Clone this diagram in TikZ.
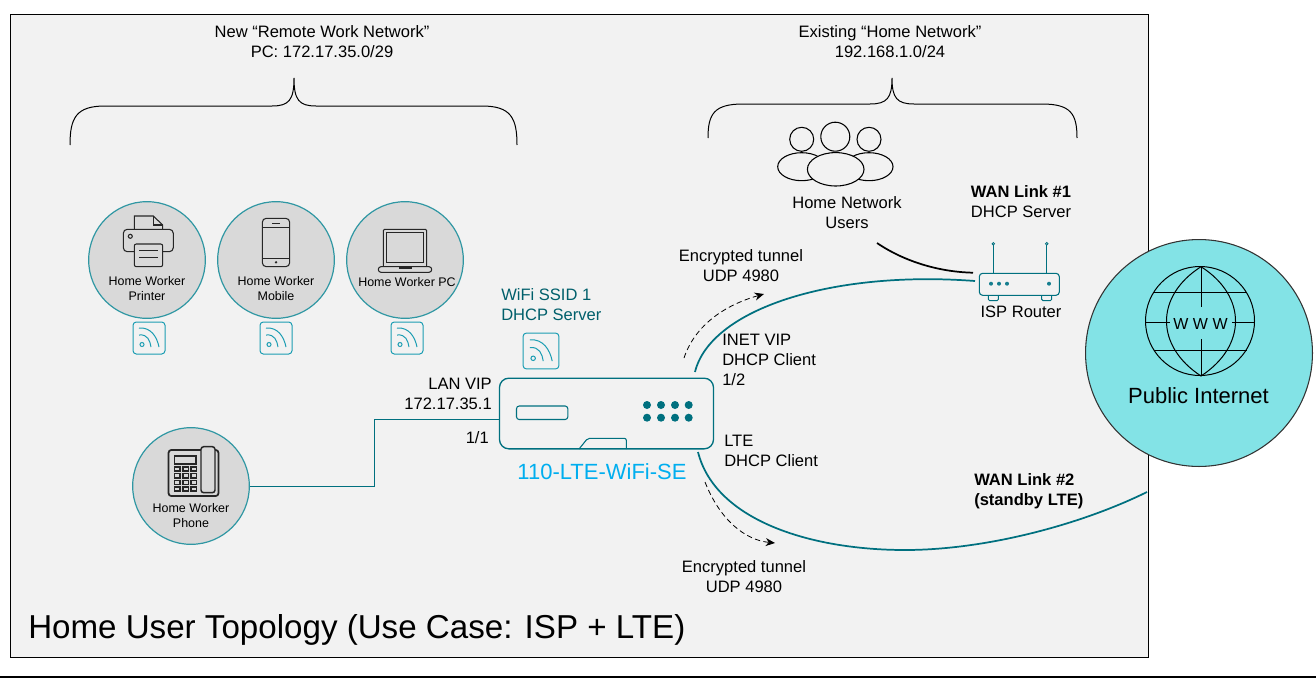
\documentclass[tikz,border=0pt]{standalone}
\usepackage{fontspec}
\setmainfont{Liberation Sans}
\usetikzlibrary{arrows.meta}
\definecolor{panelGray}{HTML}{F2F2F2}
\definecolor{circleGray}{HTML}{D9D9D9}
\definecolor{tealDark}{HTML}{00707F}
\definecolor{tealRing}{HTML}{2F97A3}
\definecolor{tealIcon}{HTML}{1C9DB3}
\definecolor{tealText}{HTML}{005F6B}
\definecolor{netCyan}{HTML}{83E3E6}
\definecolor{skyText}{HTML}{00AEEF}
\tikzset{
  txt/.style={font=\fontsize{12.4}{15}\selectfont,align=center,inner sep=0pt},
  txtL/.style={txt,align=left,anchor=west},
  txtR/.style={txt,align=right,anchor=east},
  small/.style={font=\fontsize{9.35}{11.25}\selectfont,align=center,inner sep=0pt},
  worker/.style={circle,draw=tealRing,fill=circleGray,line width=0.9pt,minimum size=87.5pt,inner sep=0pt},
  glyph/.style={line width=0.8pt,black!85},
  tealLine/.style={draw=tealDark,line width=1.3pt},
  tunnel/.style={dash pattern=on 4pt off 2.5pt,line width=0.6pt,-{Stealth[length=7pt,width=6pt]}},
  wifiIcon/.pic={
    \draw[tealIcon,line width=0.75pt,rounded corners=2.5pt] (-16,-16) rectangle (16,16);
    \draw[tealIcon,line width=0.75pt] (-7,6.5) circle[radius=2];
    \draw[tealIcon,line width=0.75pt] (-10,-3) .. controls (-1,-4) and (1,3) .. (2,9);
    \draw[tealIcon,line width=0.75pt] (-10,-10) .. controls (2,-11) and (8,-1) .. (10,9);
  }
}
\begin{document}
\begin{tikzpicture}[x=0.75pt,y=-0.75pt]
  \useasboundingbox (0,0) rectangle (1316,678);
  \draw[black,line width=0.75pt,fill=panelGray] (10,14) rectangle (1148,657);
  \draw[black,line width=0.9pt] (0,677) -- (1316,677);

  \node[txt] (remoteHead) at (322,42) {New “Remote Work Network”\\PC: 172.17.35.0/29};
  \node[txt] (homeHead) at (890,42) {Existing “Home Network”\\192.168.1.0/24};
  \draw[line width=0.75pt] (70,145) .. controls (70,118) and (76,106) .. (105,106) -- (272,106)
    .. controls (289,106) and (294,100) .. (294,78) .. controls (294,100) and (299,106) .. (316,106)
    -- (482,106) .. controls (511,106) and (517,118) .. (517,145);
  \draw[line width=0.75pt] (708,138) .. controls (708,114) and (714,104) .. (743,104) -- (870,104)
    .. controls (887,104) and (892,98) .. (892,78) .. controls (892,98) and (897,104) .. (914,104)
    -- (1042,104) .. controls (1071,104) and (1077,114) .. (1077,138);

  \node[worker] (printerNode) at (147,260) {};
  \node[worker] (mobileNode) at (276,260) {};
  \node[worker] (pcNode) at (405,260) {};
  \node[worker] (phoneNode) at (191,486) {};
  \node[small] (printerText) at (147,289) {Home Worker\\Printer};
  \node[small] (mobileText) at (276,289) {Home Worker\\Mobile};
  \node[small] (pcText) at (407,282) {Home Worker PC};
  \node[small] (phoneText) at (191,516) {Home Worker\\Phone};

  \draw[glyph] (134.3,229) -- (134.3,216) -- (153.3,216) -- (162.7,225) -- (162.7,229);
  \draw[glyph] (153.3,216) -- (153.3,225) -- (162.7,225);
  \draw[glyph,rounded corners=3pt] (123.3,229.3) rectangle (173.3,251.7);
  \draw[glyph,fill=circleGray,rounded corners=1.5pt] (134.3,244) rectangle (162.7,266.7);
  \draw[glyph] (139,250.7) -- (158.3,250.7) (139,257.3) -- (158.3,257.3);
  \draw[glyph] (130.3,236.3) circle[radius=2];

  \draw[glyph,rounded corners=3pt] (262.3,218.3) rectangle (289.7,266.7);
  \draw[glyph] (262.3,227.3) -- (289.7,227.3) (262.3,258.3) -- (289.7,258.3) (272.3,223.3) -- (280,223.3);
  \fill[black!85] (276,262.3) circle[radius=1.3];

  \draw[glyph,rounded corners=1pt] (383.3,266.7) -- (383.3,229.3) -- (426.7,229.3) -- (426.7,266.7);
  \draw[glyph] (386.7,232.3) rectangle (423.3,262.3);
  \draw[glyph,rounded corners=2pt] (378.3,266.7) rectangle (431.7,272.3);
  \draw[black!85,line width=1.4pt] (399.3,267.6) -- (411.7,267.6);

  \draw[line width=1.3pt,black!85,rounded corners=2pt] (168.6,450) rectangle (218.4,496);
  \draw[line width=1.1pt,black!85,fill=circleGray,rounded corners=2pt] (201,446.7) rectangle (215,492.7);
  \draw[line width=1.1pt,black!85] (174.3,456) rectangle (195.8,464);
  \foreach \kx in {174.5,183,191}
    \foreach \ky in {467,473.7,480.4,487}
      \draw[line width=1.1pt,black!85] (\kx,\ky) rectangle ++(5.5,4.2);

  \pic at (149,338) {wifiIcon};
  \pic at (276,338) {wifiIcon};
  \pic at (407,338) {wifiIcon};
  \pic[scale=1.12] at (541,351) {wifiIcon};

  \node[txtL,text=tealText] (ssidText) at (501,305) {WiFi SSID 1\\DHCP Server};
  \node[txtR] (lanText) at (492,393.5) {LAN VIP\\172.17.35.1};
  \node[txtR] (portText) at (489,438) {1/1};

  \node[draw=tealDark,line width=1pt,fill=panelGray,rounded corners=7pt,minimum width=160.5pt,minimum height=53pt,inner sep=0pt] (seNode) at (606.5,413.5) {};
  \draw[draw=tealDark,line width=0.8pt,rounded corners=2pt] (516.5,406) rectangle (567.8,419.5);
  \foreach \dx in {647,661,675,688.7}
    \foreach \dy in {405,417.7}
      \fill[tealDark] (\dx,\dy) circle[radius=4];
  \draw[draw=tealDark,line width=0.8pt,rounded corners=1.5pt] (579,449) -- (587.7,438.3) -- (626.3,438.3) -- (626.3,449);
  \node[inner sep=0pt,text=skyText,font=\fontsize{16.5}{18}\selectfont] (seText) at (602,472) {110-LTE-WiFi-SE};

  \coordinate (lanBend) at (374,419);
  \draw[draw=tealDark,line width=0.6pt] (phoneNode.east) -| (lanBend) -- (lanBend -| seNode.west);

  \draw[line width=0.8pt] (801.7,139.3) circle[radius=12];
  \draw[line width=0.8pt] (869,139.3) circle[radius=12];
  \draw[line width=0.8pt] (835.3,136.7) circle[radius=14.5];
  \draw[line width=0.8pt] (801.7,166.7) ellipse[x radius=24,y radius=14];
  \draw[line width=0.8pt] (869,166.7) ellipse[x radius=24,y radius=14];
  \draw[line width=0.8pt,fill=panelGray] (835.7,169.3) ellipse[x radius=28.3,y radius=16.7];
  \node[txt] (usersText) at (847,213) {Home Network\\Users};

  \node[txt] (wanOneText) at (1021,202) {\textbf{WAN Link \#1}\\DHCP Server};
  \node[draw=tealDark,line width=0.8pt,fill=panelGray,rounded corners=2.5pt,minimum width=60pt,minimum height=16.5pt,inner sep=0pt] (ispNode) at (1019.3,284.3) {};
  \draw[draw=tealDark,line width=0.7pt,rounded corners=1pt] (988.3,295.3) -- (988.3,300.7) -- (998.3,300.7) -- (998.3,295.3);
  \draw[draw=tealDark,line width=0.7pt,rounded corners=1pt] (1041.7,295.3) -- (1041.7,300.7) -- (1051.7,300.7) -- (1051.7,295.3);
  \draw[draw=tealDark,line width=0.7pt] (993.3,273.3) -- (993.3,245) (1046.7,273.3) -- (1046.7,245);
  \draw[draw=tealDark,line width=0.6pt] (993.3,243.8) circle[radius=1.3] (1046.7,243.8) circle[radius=1.3];
  \foreach \rx in {991,999,1007,1049}
    \fill[tealIcon!80!black] (\rx,283.7) circle[radius=2];
  \node[txt] (ispText) at (1021,312) {ISP Router};

  \node[draw=black!80,line width=0.8pt,circle,fill=netCyan,minimum size=170.2pt,inner sep=0pt] (netNode) at (1199,353) {};
  \draw[line width=0.75pt] (1200,321) circle[radius=54.5];
  \draw[line width=0.75pt] (1201,266.7) .. controls (1155,296) and (1155,346) .. (1201,376)
    .. controls (1247,346) and (1247,296) .. (1201,266.7);
  \draw[line width=0.75pt] (1201.5,266.7) -- (1201.5,306.7) (1201.5,339.3) -- (1201.5,376);
  \draw[line width=0.75pt] (1153.5,292.3) -- (1246.5,292.3) (1153.5,350) -- (1246.5,350);
  \draw[line width=0.75pt] (1146,322.5) -- (1170,322.5) (1232,322.5) -- (1254,322.5);
  \node[inner sep=0pt,font=\fontsize{12}{14}\selectfont] (wwwText) at (1200.5,323.5) {W W W};
  \node[inner sep=0pt,font=\fontsize{16.5}{20}\selectfont] (netText) at (1198.5,396) {Public Internet};

  \coordinate (seTop) at (695,372);
  \coordinate (seBottom) at (698,452);
  \coordinate (wanTwoEnd) at (1147,492);
  \coordinate (ispWest) at (975,281);
  \coordinate (usersEnd) at (877,243);
  \coordinate (ispBlack) at (973,272.7);
  \draw[tealLine] (seTop) .. controls (710,310) and (830,270) .. (ispWest);
  \draw[black,line width=1.3pt] (usersEnd) .. controls (905,262) and (940,272) .. (ispBlack);
  \draw[tealLine] (seBottom) .. controls (715,520) and (810,550) .. (905,550)
    .. controls (985,550) and (1080,525) .. (wanTwoEnd);

  \coordinate (tunnelUpStart) at (684,358);
  \coordinate (tunnelUpEnd) at (764,294);
  \coordinate (tunnelDownStart) at (705,482);
  \coordinate (tunnelDownEnd) at (775,543);
  \draw[tunnel] (tunnelUpStart) .. controls (695,325) and (725,305) .. (tunnelUpEnd);
  \draw[tunnel] (tunnelDownStart) .. controls (720,520) and (745,540) .. (tunnelDownEnd);

  \node[txt] (tunnelUpText) at (741,266) {Encrypted tunnel\\UDP 4980};
  \node[txt] (tunnelDownText) at (744,577) {Encrypted tunnel\\UDP 4980};
  \node[txtL] (inetText) at (722,360) {INET VIP\\DHCP Client\\1/2};
  \node[txtL] (lteText) at (724,451) {LTE\\DHCP Client};
  \node[txtL,font=\fontsize{12.4}{15}\selectfont\bfseries] (wanTwoText) at (974,491) {WAN Link \#2\\(standby LTE)};
  \node[anchor=west,inner sep=0pt,font=\fontsize{24.85}{30}\selectfont] (titleText) at (28,630) {Home User Topology (Use Case: ISP + LTE)};
\end{tikzpicture}
\end{document}
